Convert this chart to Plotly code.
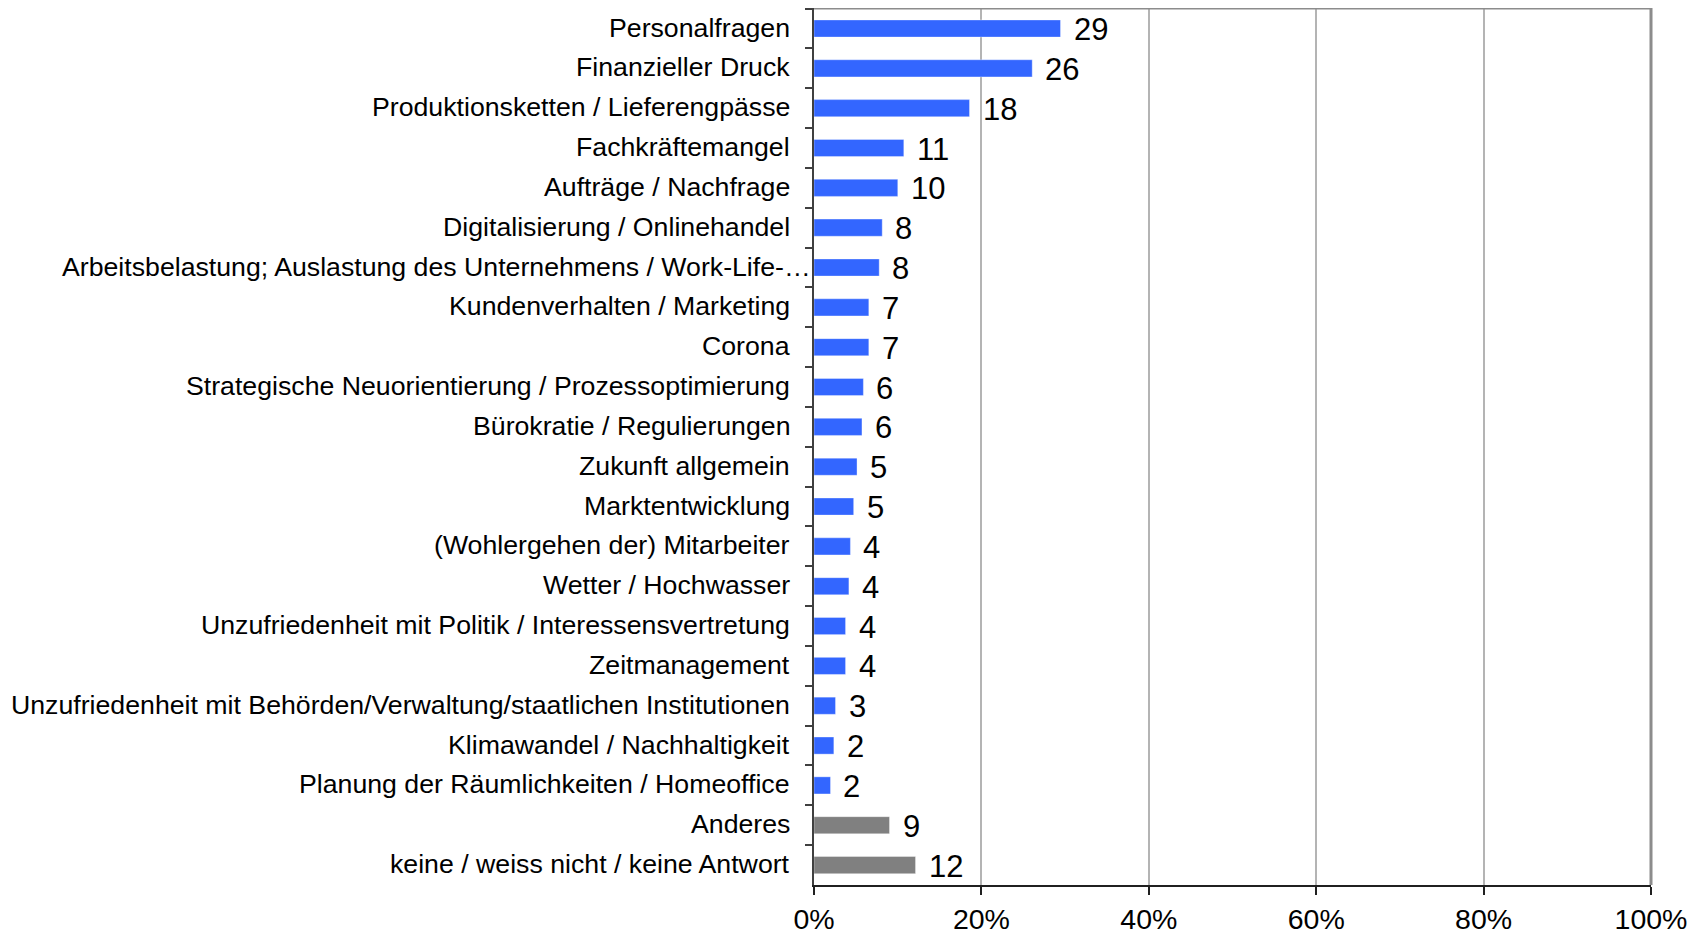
import plotly.graph_objects as go

categories = [
    "Personalfragen",
    "Finanzieller Druck",
    "Produktionsketten / Lieferengpässe",
    "Fachkräftemangel",
    "Aufträge / Nachfrage",
    "Digitalisierung / Onlinehandel",
    "Arbeitsbelastung; Auslastung des Unternehmens / Work-Life-…",
    "Kundenverhalten / Marketing",
    "Corona",
    "Strategische Neuorientierung / Prozessoptimierung",
    "Bürokratie / Regulierungen",
    "Zukunft allgemein",
    "Marktentwicklung",
    "(Wohlergehen der) Mitarbeiter",
    "Wetter / Hochwasser",
    "Unzufriedenheit mit Politik / Interessensvertretung",
    "Zeitmanagement",
    "Unzufriedenheit mit Behörden/Verwaltung/staatlichen Institutionen",
    "Klimawandel / Nachhaltigkeit",
    "Planung der Räumlichkeiten / Homeoffice",
    "Anderes",
    "keine / weiss nicht / keine Antwort",
]
percent_values = [29.45, 26.07, 18.58, 10.73, 10.01, 8.15, 7.79, 6.55, 6.55, 5.9, 5.73,
                  5.14, 4.74, 4.35, 4.17, 3.77, 3.77, 2.57, 2.37, 1.97, 9.02, 12.13]
count_labels = ["29", "26", "18", "11", "10", "8", "8", "7", "7", "6", "6",
                "5", "5", "4", "4", "4", "4", "3", "2", "2", "9", "12"]
bar_colors = ["#3366FF"] * 20 + ["#808080"] * 2
x_ticks = [0, 20, 40, 60, 80, 100]
x_tick_labels = ["0%", "20%", "40%", "60%", "80%", "100%"]

FONT = "Liberation Sans, Arial, sans-serif"

fig = go.Figure()
fig.add_trace(go.Bar(
    x=percent_values,
    y=categories,
    orientation="h",
    marker=dict(color=bar_colors, line=dict(color="rgba(255,255,255,0.35)", width=1)),
    width=0.43,
    hoverinfo="skip",
))

for cat, val, lab in zip(categories, percent_values, count_labels):
    fig.add_annotation(
        x=val, y=cat, text=lab, showarrow=False,
        xanchor="left", yanchor="middle", xshift=11, yshift=-1,
        font=dict(family=FONT, size=31, color="#000000"),
    )

# category labels (the truncated long label sits closer to the axis, as in the original)
for cat in categories:
    fig.add_annotation(
        x=0, y=cat, text=cat, showarrow=False,
        xanchor="right", yanchor="middle",
        xshift=-1 if cat.endswith("…") else -22, yshift=1,
        font=dict(family=FONT, size=26.7, color="#000000"),
    )

# top and right border of plot frame
fig.add_shape(type="line", xref="x domain", yref="y domain", x0=0, x1=1, y0=1, y1=1,
              line=dict(color="#8c8c8c", width=3))
fig.add_shape(type="line", xref="x domain", yref="y domain", x0=1, x1=1, y0=0, y1=1,
              line=dict(color="#8c8c8c", width=3))

fig.update_layout(
    width=1694, height=924,
    margin=dict(l=806, r=51, t=0, b=47, autoexpand=False),
    paper_bgcolor="white", plot_bgcolor="white",
    showlegend=False,
    font=dict(family=FONT, color="#000000"),
    xaxis=dict(
        range=[0, 100], tickvals=x_ticks, ticktext=x_tick_labels,
        showgrid=True, gridcolor="#b4b4b4", gridwidth=1.5,
        showline=True, linecolor="#202020", linewidth=2,
        ticks="outside", ticklen=8, tickcolor="#202020", tickwidth=1.5,
        ticklabelstandoff=0,
        tickfont=dict(family=FONT, size=28.5, color="#000000"),
        zeroline=False, fixedrange=True, automargin=False,
    ),
    yaxis=dict(
        categoryorder="array", categoryarray=categories,
        autorange="reversed",
        showline=True, linecolor="#404040", linewidth=2,
        ticks="outside", ticklen=7, tickcolor="#404040", tickwidth=1.5,
        tickson="boundaries",
        showticklabels=False,
        showgrid=False, zeroline=False, fixedrange=True, automargin=False,
    ),
)

fig.write_html("out.html")
